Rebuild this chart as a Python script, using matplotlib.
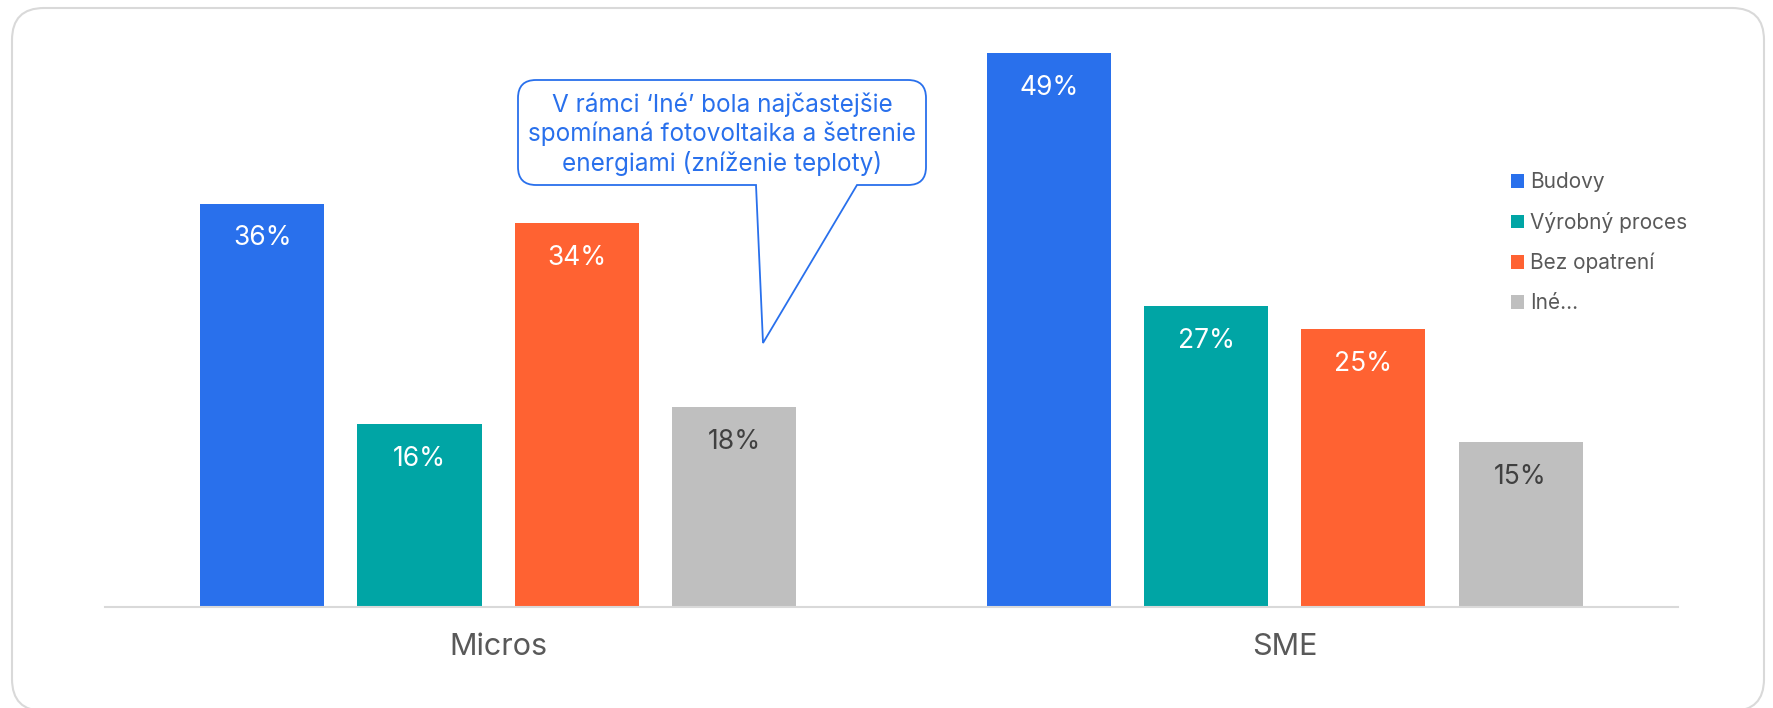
import matplotlib.pyplot as plt
import numpy as np
from matplotlib.patches import FancyBboxPatch, PathPatch
from matplotlib.path import Path

plt.rcParams['font.family'] = ['Inter', 'DejaVu Sans']

groups = ['Micros', 'SME']
series = ['Budovy', 'Výrobný proces', 'Bez opatrení', 'Iné...']
values = [
    [0.357, 0.490],   # Budovy
    [0.162, 0.266],   # Výrobný proces
    [0.340, 0.246],   # Bez opatrení
    [0.177, 0.146],   # Iné...
]
colors = ['#2970EC', '#00A5A5', '#FF6232', '#BFBFBF']
label_colors = ['white', 'white', 'white', '#404040']
note = "V rámci ‘Iné’ bola najčastejšie\nspomínaná fotovoltaika a šetrenie\nenergiami (zníženie teploty)"

fig = plt.figure(figsize=(17.73, 7.08), dpi=100)

# outer rounded frame (inches), sits behind the axes
frame = FancyBboxPatch((0.12, -0.03), 17.52, 7.03,
                       boxstyle="round,pad=0,rounding_size=0.32",
                       transform=fig.dpi_scale_trans, fc='white', ec='#D9D9D9', lw=1.5,
                       zorder=-1)
fig.patches.append(frame)

ax = fig.add_axes([0.0592, 0.1427, 0.8872, 0.798])
ax.set_facecolor('none')

x = np.arange(len(groups))
width = 0.158
offsets = [-0.3, -0.1, 0.1, 0.3]

handles = []
for i, name in enumerate(series):
    bars = ax.bar(x + offsets[i], values[i], width, color=colors[i], label=name)
    handles.append(bars)
    for b, v in zip(bars, values[i]):
        ax.annotate(f'{round(v * 100)}%', xy=(b.get_x() + b.get_width() / 2, v),
                    xytext=(0, -25), textcoords='offset points',
                    ha='center', va='center', fontsize=19, color=label_colors[i])

ax.set_xlim(-0.5, 1.5)
ax.set_ylim(0, 0.5)
ax.set_yticks([])
ax.set_xticks(x)
ax.set_xticklabels(groups, fontsize=22, color='#595959')
ax.tick_params(axis='x', length=0, pad=19)
for s in ['top', 'left', 'right']:
    ax.spines[s].set_visible(False)
ax.spines['bottom'].set_color('#D9D9D9')
ax.spines['bottom'].set_linewidth(1.5)

leg = fig.legend(handles=handles, labels=series, loc='upper left',
                 bbox_to_anchor=(0.852, 0.757), frameon=False, fontsize=15,
                 handlelength=0.65, handleheight=0.65, handletextpad=0.3,
                 labelspacing=0.95, borderpad=0, borderaxespad=0)
for t in leg.get_texts():
    t.set_color('#595959')

# callout bubble (inches)
L, R, B, T, r = 5.18, 9.26, 5.23, 6.28, 0.18
verts = [(L + r, T), (R - r, T), (R, T), (R, T - r), (R, B + r), (R, B), (R - r, B),
         (8.57, B), (7.63, 3.65), (7.56, B), (L + r, B), (L, B), (L, B + r),
         (L, T - r), (L, T), (L + r, T), (L + r, T)]
codes = [Path.MOVETO, Path.LINETO, Path.CURVE3, Path.CURVE3, Path.LINETO, Path.CURVE3, Path.CURVE3,
         Path.LINETO, Path.LINETO, Path.LINETO, Path.LINETO, Path.CURVE3, Path.CURVE3,
         Path.LINETO, Path.CURVE3, Path.CURVE3, Path.CLOSEPOLY]
bubble = PathPatch(Path(verts, codes), transform=fig.dpi_scale_trans,
                   fc='white', ec='#2970EC', lw=1.3, zorder=5)
fig.patches.append(bubble)
fig.text((L + R) / 2, 5.74, note, transform=fig.dpi_scale_trans, ha='center', va='center',
         multialignment='center', fontsize=17.5, color='#2970EC', linespacing=1.25, zorder=6)

fig.savefig('out.png', dpi=100)
